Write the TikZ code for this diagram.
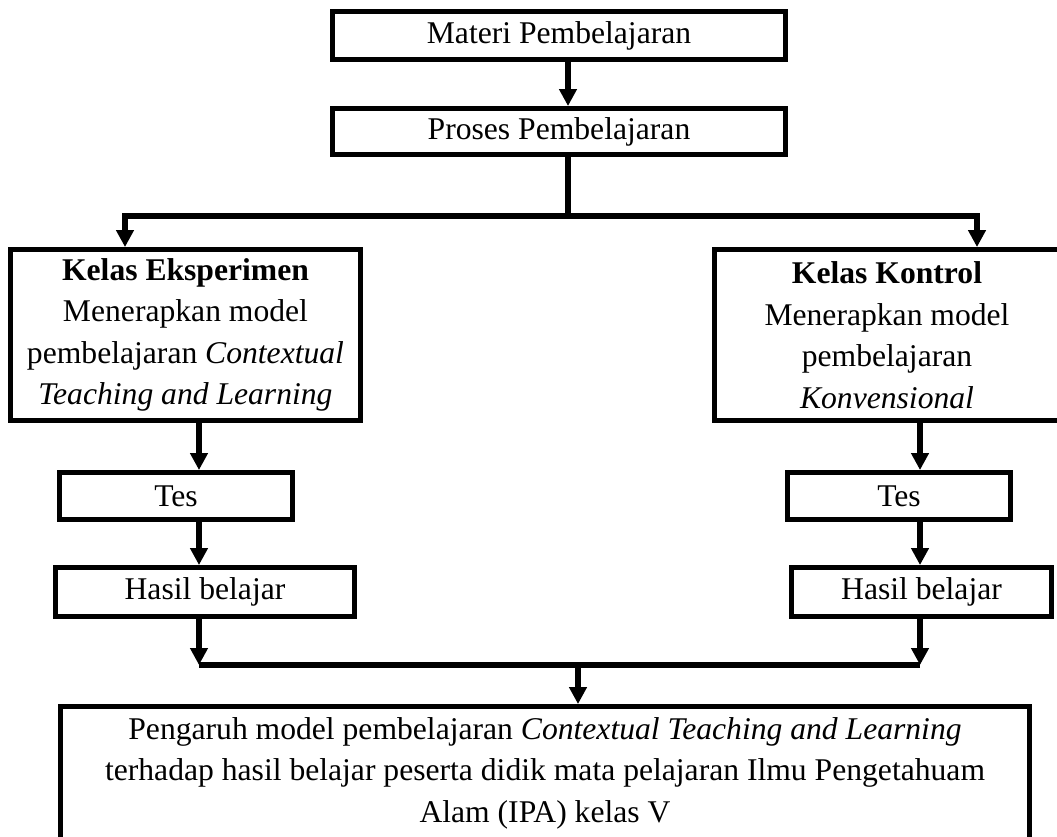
\documentclass[tikz,border=0pt]{standalone}
\usepackage{fontspec}
\setmainfont{Liberation Serif}
\usetikzlibrary{arrows.meta, positioning, calc}
\tikzset{
  box/.style={draw=black, line width=2.8pt, inner sep=0pt, align=center,
              font=\fontsize{18}{23.6}\selectfont},
  arr/.style={-{Triangle[length=0.34cm, width=0.34cm]}, line width=3pt, draw=black},
  link/.style={line width=3pt, draw=black},
}

\begin{document}
\begin{tikzpicture}[x=0.02cm, y=-0.02cm]
\useasboundingbox (0,0) rectangle (1057,836);
\clip (0,0) rectangle (1057,836);

% ---------- atas ----------
\node[box, minimum width=9.06cm, minimum height=0.96cm] (materi) at (559,35.5)
  {Materi Pembelajaran};
\node[box, minimum width=9.06cm, minimum height=0.92cm] (proses) at (559,131.5)
  {Proses Pembelajaran};

% ---------- dua kelas ----------
\node[box, minimum width=7.0cm, minimum height=3.42cm] (eks) at (185.5,335)
  {\textbf{Kelas Eksperimen}\\ Menerapkan model\\ pembelajaran \textit{Contextual}\\ \textit{Teaching and Learning}};
\node[box, minimum width=6.9cm, minimum height=3.42cm] (kontrol) at (887,335)
  {\textbf{Kelas Kontrol}\\ Menerapkan model\\ pembelajaran\\ \textit{Konvensional}};

\node[box, minimum width=4.66cm, minimum height=0.94cm] (tesL) at (176,496) {Tes};
\node[box, minimum width=4.46cm, minimum height=0.94cm] (tesR) at (899,496) {Tes};

\node[box, minimum width=5.98cm, minimum height=0.98cm] (hasilL) at (205,592) {Hasil belajar};
\node[box, minimum width=5.2cm, minimum height=0.98cm] (hasilR) at (921.5,592) {Hasil belajar};

% ---------- kesimpulan ----------
\node[box, minimum width=19.38cm, minimum height=2.66cm] (pengaruh) at (545,773)
  {Pengaruh model pembelajaran \textit{Contextual Teaching and Learning}\\ terhadap hasil belajar peserta didik mata pelajaran Ilmu Pengetahuam\\ Alam (IPA) kelas V};

\coordinate (fork) at (568,216);
\coordinate (forkL) at (125,216);
\coordinate (forkR) at (977,216);
\coordinate (joinL) at (199,665);
\coordinate (joinR) at (920,665);
\coordinate (join) at (578,665);

\draw[arr] (materi.south -| fork) -- (proses.north -| fork);
\draw[link] (proses.south -| fork) -- (fork);
\draw[arr] (fork) -- (forkL) -- (eks.north -| forkL);
\draw[arr] (fork) -- (forkR) -- (kontrol.north -| forkR);

\draw[arr] (eks.south -| joinL) -- (tesL.north -| joinL);
\draw[arr] (tesL.south -| joinL) -- (hasilL.north -| joinL);
\draw[arr] (hasilL.south -| joinL) -- (joinL);

\draw[arr] (kontrol.south -| joinR) -- (tesR.north -| joinR);
\draw[arr] (tesR.south -| joinR) -- (hasilR.north -| joinR);
\draw[arr] (hasilR.south -| joinR) -- (joinR);

\draw[link] (joinL) -- (joinR);
\draw[arr] (join) -- (pengaruh.north -| join);

\end{tikzpicture}
\end{document}
